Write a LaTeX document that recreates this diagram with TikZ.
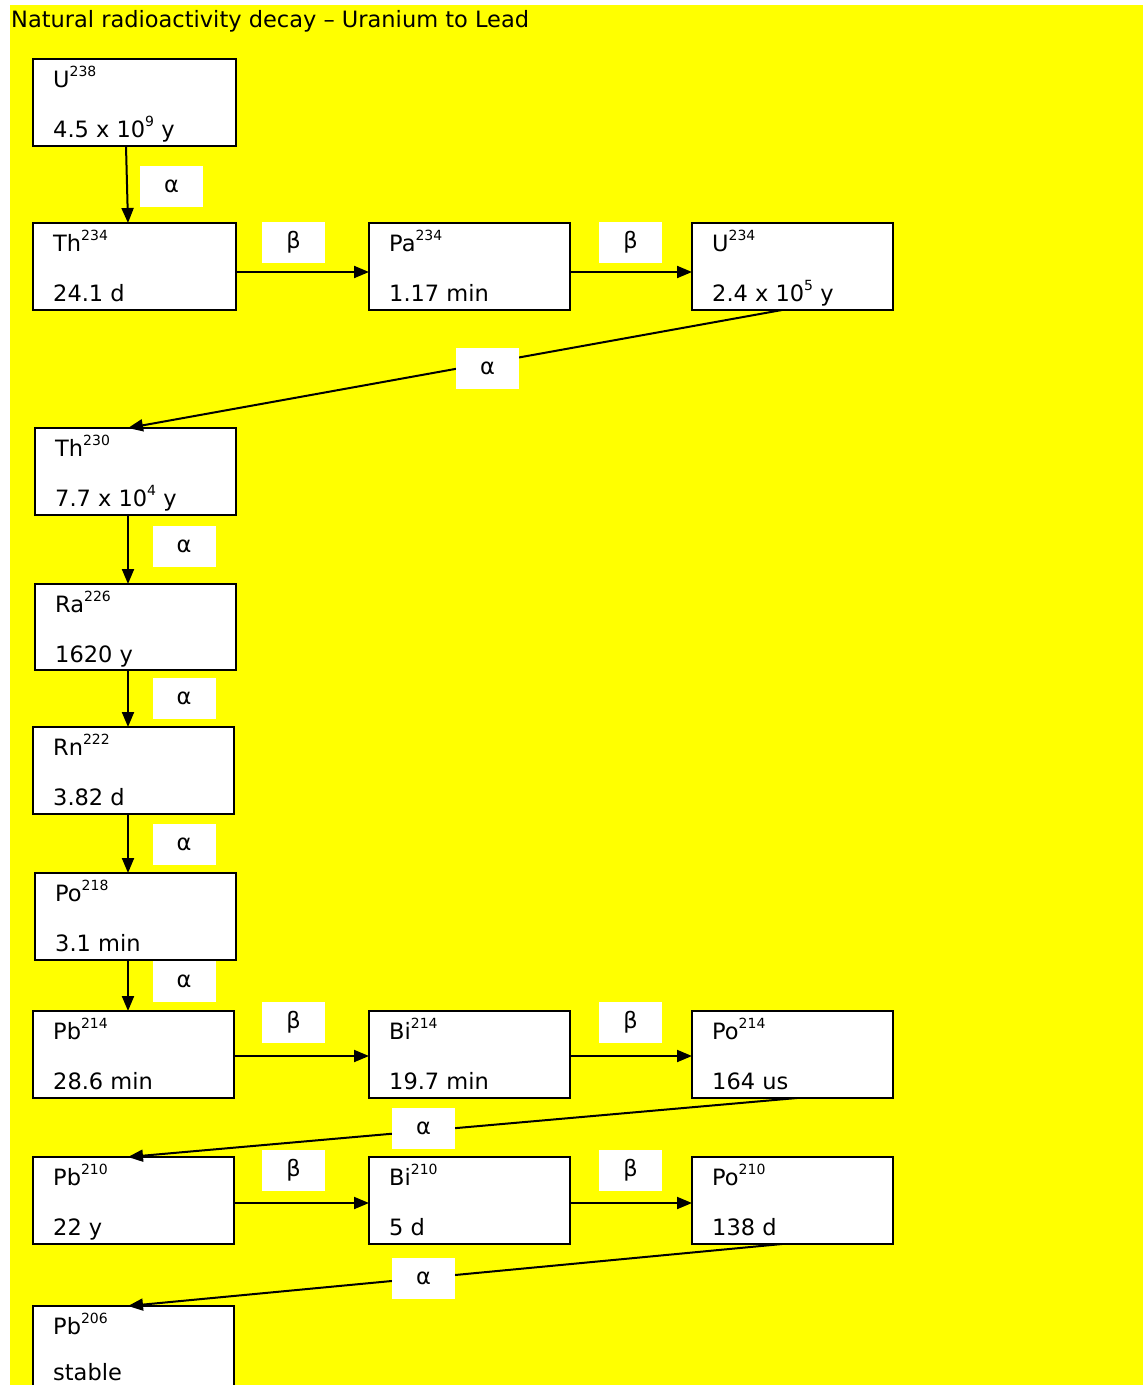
\documentclass[tikz,border=0pt]{standalone}
\usepackage{fontspec}
\setmainfont{DejaVu Sans}
\usetikzlibrary{arrows.meta,calc}
\definecolor{bgyellow}{RGB}{255,255,0}
\newcommand\ms[1]{\raisebox{0.45em}{\fontsize{14}{14}\selectfont #1}}
\tikzset{
  box/.style={draw=black, line width=1.6pt, fill=white, inner sep=0pt, outer sep=0pt, anchor=north west},
  txt/.style={anchor=base west, inner sep=0pt, font=\fontsize{22.5}{26}\selectfont},
  lbl/.style={fill=white, inner sep=0pt, minimum width=63pt, minimum height=41pt, font=\fontsize{22.5}{26}\selectfont},
  arr/.style={line width=2pt, -{Triangle[length=15pt,width=12pt]}}
}
% name, x1, y1, x2, y2, symbol, halflife
\newcommand\nuc[7]{%
  \node[box, minimum width={(#4-#2)*1pt}, minimum height={(#5-#3)*1pt}] (#1) at (#2,#3) {};
  \begin{scope}
    \clip (#2+1,#3+1) rectangle (#4-1,#5-1);
    \node[txt] (#1s) at (#2+20,#3+28) {#6};
    \node[txt] (#1h) at (#2+20,#3+78) {#7};
  \end{scope}
}
\begin{document}
\begin{tikzpicture}[x=1pt,y=-1pt]
\path[use as bounding box, fill=white] (0,0) rectangle (1143,1385);
\fill[bgyellow] (10,5) rectangle (1143,1385);
\node[anchor=base west, inner sep=0pt, font=\fontsize{22.5}{26}\selectfont] (title) at (11,27) {Natural radioactivity decay – Uranium to Lead};

\nuc{u238}{33}{59}{236}{146}{U\ms{238}}{4.5 x 10\ms{9} y}
\nuc{th234}{33}{223}{236}{310}{Th\ms{234}}{24.1 d}
\nuc{pa234}{369}{223}{570}{310}{Pa\ms{234}}{1.17 min}
\nuc{u234}{692}{223}{893}{310}{U\ms{234}}{2.4 x 10\ms{5} y}
\nuc{th230}{35}{428}{236}{515}{Th\ms{230}}{7.7 x 10\ms{4} y}
\nuc{ra226}{35}{584}{236}{670}{Ra\ms{226}}{1620 y}
\nuc{rn222}{33}{727}{234}{814}{Rn\ms{222}}{3.82 d}
\nuc{po218}{35}{873}{236}{960}{Po\ms{218}}{3.1 min}
\nuc{pb214}{33}{1011}{234}{1098}{Pb\ms{214}}{28.6 min}
\nuc{bi214}{369}{1011}{570}{1098}{Bi\ms{214}}{19.7 min}
\nuc{po214}{692}{1011}{893}{1098}{Po\ms{214}}{164 us}
\nuc{pb210}{33}{1157}{234}{1244}{Pb\ms{210}}{22 y}
\nuc{bi210}{369}{1157}{570}{1244}{Bi\ms{210}}{5 d}
\nuc{po210}{692}{1157}{893}{1244}{Po\ms{210}}{138 d}
% last box runs off the bottom edge
\node[box, minimum width=201pt, minimum height=110pt] (pb206) at (33,1306) {};
\node[txt] (pb206s) at (53,1334) {Pb\ms{206}};
\node[txt] (pb206h) at (53,1380) {stable};

% connectors
\draw[arr] ([xshift=93pt]u238.south west) -- ([xshift=95pt]th234.north west);
\draw[arr] ([yshift=-5.5pt]th234.east) -- ([yshift=-5.5pt]pa234.west);
\draw[arr] ([yshift=-5.5pt]pa234.east) -- ([yshift=-5.5pt]u234.west);
\draw[arr] ([xshift=90pt]u234.south west) -- ([xshift=93pt]th230.north west);
\draw[arr] ([xshift=93pt]th230.south west) -- ([xshift=93pt]ra226.north west);
\draw[arr] ([xshift=93pt]ra226.south west) -- ([xshift=95pt]rn222.north west);
\draw[arr] ([xshift=95pt]rn222.south west) -- ([xshift=93pt]po218.north west);
\draw[arr] ([xshift=93pt]po218.south west) -- ([xshift=95pt]pb214.north west);
\draw[arr] ([yshift=-1.5pt]pb214.east) -- ([yshift=-1.5pt]bi214.west);
\draw[arr] ([yshift=-1.5pt]bi214.east) -- ([yshift=-1.5pt]po214.west);
\draw[arr] ([xshift=105pt]po214.south west) -- ([xshift=95pt]pb210.north west);
\draw[arr] ([yshift=-2.5pt]pb210.east) -- ([yshift=-2.5pt]bi210.west);
\draw[arr] ([yshift=-2.5pt]bi210.east) -- ([yshift=-2.5pt]po210.west);
\draw[arr] ([xshift=90pt]po210.south west) -- ([xshift=95pt]pb206.north west);

% labels
\node[lbl] (a1) at (171.5,186) {α};
\node[lbl] (b1) at (293.5,242.5) {β};
\node[lbl] (b2) at (630.5,242.5) {β};
\node[lbl] (a2) at (487.5,368.5) {α};
\node[lbl] (a3) at (184,546) {α};
\node[lbl] (a4) at (184,698.5) {α};
\node[lbl] (a5) at (184,844.5) {α};
\node[lbl] (a6) at (184,981) {α};
\node[lbl] (b3) at (293.5,1022) {β};
\node[lbl] (b4) at (630.5,1022) {β};
\node[lbl] (a7) at (423.5,1128.5) {α};
\node[lbl] (b5) at (293.5,1170) {β};
\node[lbl] (b6) at (630.5,1170) {β};
\node[lbl] (a8) at (423.5,1278) {α};
\end{tikzpicture}
\end{document}
